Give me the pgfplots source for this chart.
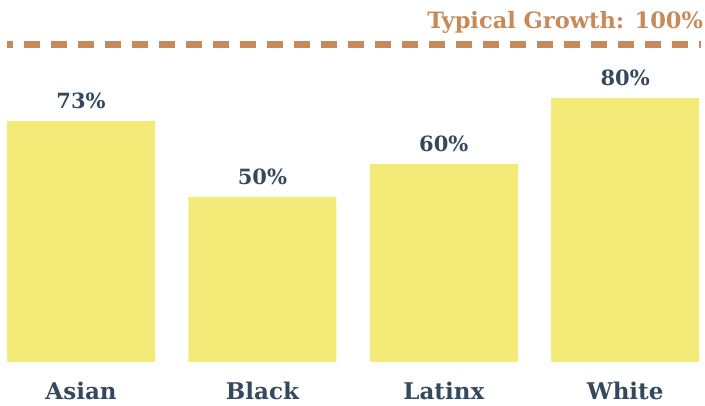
\documentclass[border=0pt]{standalone}
\usepackage{pgfplots}
\pgfplotsset{compat=1.18}
\usepackage{fontspec}
\setmainfont{DejaVu Serif}
\definecolor{barY}{HTML}{F4EA78}
\definecolor{txtD}{HTML}{35495E}
\definecolor{brn}{HTML}{C68A5B}
\begin{document}
\begin{tikzpicture}[x=1pt,y=1pt]
\begin{axis}[
  at={(0pt,44pt)}, anchor=south west,
  scale only axis, width=705pt, height=362pt,
  xmin=-0.447, xmax=3.44, ymin=0, ymax=109.7,
  axis line style={draw=none}, ytick=\empty,
  xtick={0,1,2,3}, xticklabels={Asian,Black,Latinx,White},
  major tick length=0pt,
  /pgf/number format/assume math mode=true,
  xticklabel style={font=\fontsize{23}{26}\selectfont\bfseries, text=txtD, yshift=-16pt},
  ybar, bar width=0.816, bar shift=0pt,
  nodes near coords={\pgfmathprintnumber{\pgfplotspointmeta}\%},
  every node near coord/.append style={font=\fontsize{21}{24}\selectfont\bfseries, text=txtD, anchor=south, yshift=9pt},
  clip=false,
]
\addplot[fill=barY, draw=none] coordinates {(0,73) (1,50) (2,60) (3,80)};
\draw[brn, line width=7pt, dash pattern=on 16pt off 11pt, dash phase=10pt] (axis cs:-0.408,96.2) -- (axis cs:3.42,96.2);
\node[anchor=east, text=brn, font=\fontsize{22.5}{26}\selectfont\bfseries, inner sep=0pt] at (axis cs:3.43,102.8) {Typical Growth: 100\%};
\end{axis}
\pgfresetboundingbox
\path[use as bounding box] (0,0) rectangle (705pt,406pt);
\end{tikzpicture}
\end{document}
